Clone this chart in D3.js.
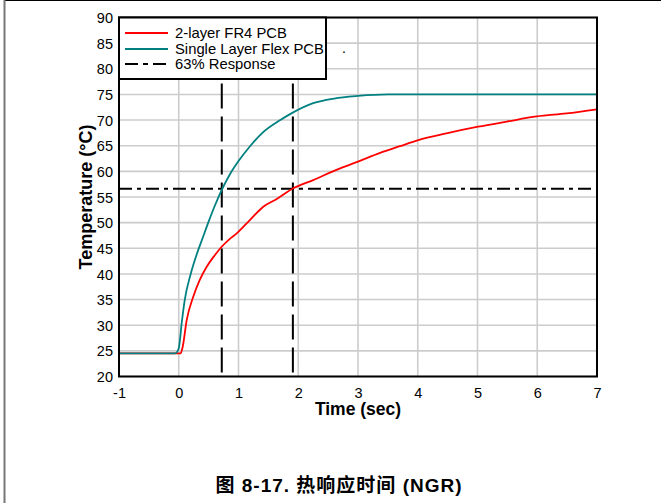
<!DOCTYPE html>
<html><head><meta charset="utf-8">
<script src="https://cdn.jsdelivr.net/npm/d3@7"></script>
<style>
html,body{margin:0;padding:0;background:#fff;}
svg{display:block;font-family:"Liberation Sans",Arial,sans-serif;}
</style></head>
<body><svg id="c" width="661" height="503"></svg>
<script>
// ---- data ----
const flexTime = [-1, -0.06, 0.0, 0.05, 0.1, 0.2, 0.3, 0.4, 0.5, 0.6, 0.72, 0.85, 1.0, 1.2, 1.4, 1.7, 1.9, 2.25, 2.6, 3.0, 3.5, 4.0, 5.0, 6.0, 7.0];
const flexTemp = [24.5, 24.5, 25.5, 30.5, 34.9, 40.0, 43.8, 47.0, 50.2, 53.2, 56.4, 59.3, 62.0, 65.0, 67.5, 70.0, 71.4, 73.3, 74.2, 74.7, 75.0, 75.0, 75.0, 75.0, 75.0];
const fr4Time = [-1, 0.03, 0.066, 0.133, 0.244, 0.35, 0.468, 0.6, 0.718, 0.85, 0.97, 1.19, 1.415, 1.64, 1.917, 2.25, 2.64, 3.0, 3.37, 3.7, 4.01, 4.48, 5.01, 5.49, 5.99, 6.49, 7.0];
const fr4Temp = [24.5, 24.5, 25.8, 31.0, 35.6, 38.8, 41.4, 43.6, 45.3, 46.8, 47.9, 50.5, 53.1, 54.6, 56.7, 58.3, 60.3, 61.9, 63.6, 64.9, 66.1, 67.4, 68.7, 69.7, 70.7, 71.3, 72.1];
const responseTimes = [0.72, 1.91];
const responseTemp = 56.6;
const xTicks = [-1, 0, 1, 2, 3, 4, 5, 6, 7];
const yTicks = [20, 25, 30, 35, 40, 45, 50, 55, 60, 65, 70, 75, 80, 85, 90];
const legendLabels = ["2-layer FR4 PCB", "Single Layer Flex PCB", "63% Response"];
const xTitle = "Time (sec)";
const yTitle = "Temperature (°C)";
const caption = "图 8-17. 热响应时间 (NGR)";

// ---- layout ----
const L = 119, R = 597, T = 17.5, B = 376.5;
const svg = d3.select("#c");
const x = d3.scaleLinear().domain([-1, 7]).range([L, R]);
const y = d3.scaleLinear().domain([20, 90]).range([B, T]);

// page border
svg.append("line").attr("x1", 4).attr("x2", 661).attr("y1", 0.5).attr("y2", 0.5).attr("stroke", "#000").attr("stroke-width", 1);
svg.append("line").attr("x1", 4.5).attr("x2", 4.5).attr("y1", 0).attr("y2", 503).attr("stroke", "#777").attr("stroke-width", 2);

// grid
const g = svg.append("g");
g.selectAll(".gx").data(xTicks).join("line")
  .attr("x1", d => x(d)).attr("x2", d => x(d)).attr("y1", T).attr("y2", B)
  .attr("stroke", "#cccccc").attr("stroke-width", 1.6);
g.selectAll(".gy").data(yTicks).join("line")
  .attr("x1", L).attr("x2", R).attr("y1", d => y(d)).attr("y2", d => y(d))
  .attr("stroke", "#cccccc").attr("stroke-width", 1.6);

// axes (labels only)
const fmt = d => String(d);
const xAxis = d3.axisBottom(x).tickValues(xTicks).tickSize(0).tickPadding(0).tickFormat(fmt);
const yAxis = d3.axisLeft(y).tickValues(yTicks).tickSize(0).tickPadding(0).tickFormat(fmt);
const gx = svg.append("g").attr("transform", `translate(0,${B})`).call(xAxis);
gx.select(".domain").remove();
gx.selectAll("text").attr("font-size", 14.5).attr("font-family", "Liberation Sans, Arial, sans-serif").attr("fill", "#000").attr("dy", null).attr("y", 21);
const gy = svg.append("g").attr("transform", `translate(${L - 6},0)`).call(yAxis);
gy.select(".domain").remove();
gy.selectAll("text").attr("font-size", 14.5).attr("font-family", "Liberation Sans, Arial, sans-serif").attr("fill", "#000").attr("dy", "0.35em");

// response lines
svg.selectAll(".vr").data(responseTimes).join("line")
  .attr("x1", d => x(d)).attr("x2", d => x(d)).attr("y1", T).attr("y2", B)
  .attr("stroke", "#000").attr("stroke-width", 2).attr("stroke-dasharray", "25,8");
svg.append("line").attr("x1", L).attr("x2", R).attr("y1", y(responseTemp)).attr("y2", y(responseTemp))
  .attr("stroke", "#000").attr("stroke-width", 2).attr("stroke-dasharray", "13,5,4,5");

// curves
const line = d3.line().x(d => x(d[0])).y(d => y(d[1])).curve(d3.curveMonotoneX);
svg.append("path").datum(d3.zip(fr4Time, fr4Temp)).attr("d", line)
  .attr("fill", "none").attr("stroke", "#ff0000").attr("stroke-width", 1.8);
svg.append("path").datum(d3.zip(flexTime, flexTemp)).attr("d", line)
  .attr("fill", "none").attr("stroke", "#008080").attr("stroke-width", 1.8);

// frame
svg.append("rect").attr("x", L).attr("y", T).attr("width", R - L).attr("height", B - T)
  .attr("fill", "none").attr("stroke", "#000").attr("stroke-width", 2);

// legend
const lg = svg.append("g");
lg.append("rect").attr("x", L).attr("y", T).attr("width", 207).attr("height", 61.5)
  .attr("fill", "#fff").attr("stroke", "#000").attr("stroke-width", 2);
const legendColors = ["#ff0000", "#008080", "#000"];
const legendDash = [null, null, "13,5,5,5"];
const rowY = [33, 49, 64];
legendLabels.forEach((lab, i) => {
  lg.append("line").attr("x1", 125).attr("x2", 168).attr("y1", rowY[i]).attr("y2", rowY[i])
    .attr("stroke", legendColors[i]).attr("stroke-width", 1.8).attr("stroke-dasharray", legendDash[i]);
  lg.append("text").attr("x", 175).attr("y", rowY[i] + 5).attr("font-size", 14.8).text(lab);
});
svg.append("text").attr("x", 342).attr("y", 53).attr("font-size", 14).text(".");

// titles
svg.append("text").attr("x", (L + R) / 2).attr("y", 415).attr("text-anchor", "middle")
  .attr("font-size", 17.5).attr("font-weight", "bold").text(xTitle);
svg.append("text").attr("transform", `translate(92,${(T + B) / 2}) rotate(-90)`).attr("text-anchor", "middle")
  .attr("font-size", 18).attr("font-weight", "bold").text(yTitle);
svg.append("text").attr("x", 339).attr("y", 492).attr("text-anchor", "middle")
  .attr("font-size", 19).attr("font-weight", "bold").attr("letter-spacing", 1)
  .attr("font-family", "'Liberation Sans', Arial, 'Noto Sans CJK SC', sans-serif").text(caption);
</script></body></html>
